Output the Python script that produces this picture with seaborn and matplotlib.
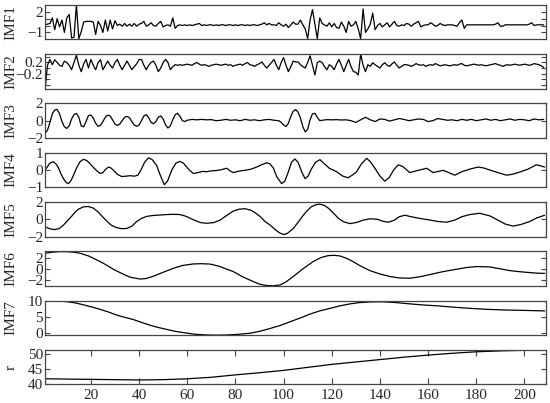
import numpy as np
import matplotlib
matplotlib.use("Agg")
import matplotlib.pyplot as plt
import seaborn as sns

# ---- data ----
imf1 = [0.1, 0.2, 0.3, 1.1, -0.6, 1.0, -0.2, 0.8, -1.0, 1.1,
        1.6, -1.8, -1.7, 3.0, -1.9, -0.9, 0.5, 0.6, 0.6, 0.6,
        0.5, -1.3, 0.6, 0.0, -1.0, 0.8, -0.8, 0.8, -0.5, 0.7,
        0.0, 0.2, -0.1, 0.3, -0.1, 0.2, -0.1, 0.3, -0.1, 0.2,
        0.3, 0.6, -0.1, 0.1, 0.4, 0.0, -0.1, 0.3, 0.6, -0.2,
        0.0, 0.1, -0.1, 1.1, -0.4, 0.0, 0.1, 0.0, 0.1, 0.0,
        0.1, 0.0, 0.1, 0.2, 0.3, 0.0, 0.1, 0.0, 0.1, 0.1,
        0.0, 0.1, 0.0, 0.1, 0.1, 0.0, 0.1, 0.1, 0.0, 0.1,
        0.0, 0.1, 0.1, 0.0, 0.1, 0.0, 0.1, 0.1, 0.0, 0.1,
        0.2, 0.4, 0.1, 0.3, 0.1, 0.1, 0.0, 0.4, 0.1, -0.1,
        0.2, -0.3, 0.1, 0.5, 0.2, 0.2, 0.8, 0.1, -0.5, -1.9,
        0.8, 2.3, 0.2, -1.9, 1.1, 0.3, 0.1, -0.1, 0.4, -0.2,
        0.3, -0.3, -0.4, 0.5, -0.1, -1.0, 0.6, -0.1, 0.1, 0.6,
        -0.5, -1.9, 2.4, -1.0, -0.5, 0.2, 1.8, -0.6, 0.0, 0.3,
        -0.2, 0.1, 0.4, -0.2, 0.2, 0.6, 0.0, -0.1, 0.1, 0.0,
        0.3, 0.2, -0.1, 0.2, 0.4, 0.6, -0.2, 0.0, 0.1, 0.1,
        0.4, 0.2, -0.1, 0.0, 0.3, 0.1, 0.0, 0.1, 0.1, 0.1,
        0.0, -0.1, 0.4, 0.8, -0.4, 0.1, 0.1, 0.1, 0.1, 0.1,
        0.1, 0.1, 0.1, 0.1, 0.1, 0.1, 0.1, 0.2, 0.4, -0.1,
        -0.1, 0.1, 0.1, 0.1, 0.1, 0.1, 0.1, 0.1, 0.1, 0.1,
        0.1, 0.2, 0.4, 0.0, 0.1, 0.1, 0.1, 0.1]

imf2 = [-0.74, 0.1, 0.31, 0.12, 0.3, 0.2, 0.1, 0.06, 0.25, 0.2,
        0.1, -0.06, 0.2, 0.46, 0.1, -0.13, 0.15, 0.31, 0.0, 0.31,
        0.1, -0.06, 0.2, 0.3, -0.06, 0.1, 0.25, 0.1, 0.0, 0.2,
        0.31, 0.1, -0.06, 0.1, 0.25, 0.1, -0.06, 0.05, 0.15, 0.3,
        0.31, 0.1, -0.06, 0.1, 0.2, 0.25, 0.1, -0.13, 0.0, 0.2,
        0.31, 0.2, -0.06, 0.05, 0.12, 0.1, 0.12, 0.1, 0.12, 0.14,
        0.12, 0.1, 0.16, 0.2, 0.14, 0.1, 0.12, 0.1, 0.06, 0.1,
        0.12, 0.14, 0.12, 0.1, 0.12, 0.14, 0.1, 0.12, 0.06, 0.1,
        0.12, 0.14, 0.1, 0.16, 0.2, 0.12, 0.1, 0.06, 0.12, 0.16,
        0.22, 0.1, 0.0, 0.1, 0.2, 0.31, 0.1, -0.06, 0.2, 0.38,
        0.1, -0.13, 0.05, 0.25, 0.22, 0.22, 0.12, 0.05, 0.0, 0.2,
        0.44, 0.1, -0.25, 0.19, 0.25, 0.2, 0.05, -0.06, 0.12, 0.06,
        -0.06, 0.15, 0.31, 0.1, -0.13, 0.1, 0.31, 0.05, -0.13, -0.15,
        -0.25, 0.5, 0.1, -0.13, 0.12, 0.06, 0.19, 0.12, 0.06, 0.0,
        0.12, 0.19, 0.1, 0.06, 0.15, 0.22, 0.1, 0.0, 0.06, 0.12,
        0.12, 0.1, 0.06, 0.1, 0.16, 0.12, 0.1, 0.12, 0.06, 0.1,
        0.12, 0.1, 0.16, 0.12, 0.08, 0.1, 0.12, 0.1, 0.08, 0.1,
        0.12, 0.1, 0.14, 0.16, 0.1, 0.08, 0.1, 0.12, 0.14, 0.12,
        0.1, 0.12, 0.1, 0.08, 0.1, 0.12, 0.14, 0.16, 0.12, 0.1,
        0.06, 0.1, 0.12, 0.1, 0.12, 0.14, 0.12, 0.1, 0.12, 0.14,
        0.12, 0.1, 0.12, 0.16, 0.14, 0.12, 0.08, 0.02]

imf3_x = [1, 2, 3, 4, 5, 6, 7, 8, 9, 10, 11, 12, 13, 14, 15, 16, 17, 18, 19, 20,
          21, 22, 23, 24, 25, 26, 27, 28, 29, 30, 31, 32, 33, 34, 35, 36, 37, 38, 39, 40,
          41, 42, 43, 44, 45, 46, 47, 48, 49, 50, 51, 52, 53, 54, 55, 56, 57, 58, 59, 60,
          61, 62, 64, 66, 68, 70, 72, 74, 76, 78, 80, 82, 84, 86, 88, 90, 92, 94, 96, 98,
          99, 100, 101, 102, 103, 104, 105, 106, 107, 108, 109, 110, 111, 112, 113, 114, 115, 116, 118, 120,
          122, 124, 126, 128, 130, 132, 134, 136, 138, 140, 142, 144, 146, 148, 150, 152, 154, 156, 158, 160,
          162, 164, 166, 168, 170, 172, 174, 176, 178, 180, 182, 184, 186, 188, 190, 192, 194, 196, 198, 200,
          202, 204, 206, 208]
imf3 = [-1.45, -1.1, -0.2, 0.8, 1.25, 1.3, 0.8, -0.1, -0.7, -0.9, -0.6, 0.2, 0.7, 0.85, 0.4, -0.6, -0.7, -0.1, 0.6, 0.65,
        0.3, -0.3, -0.65, -0.55, -0.1, 0.4, 0.65, 0.55, 0.1, -0.4, -0.55, -0.4, 0.0, 0.4, 0.5, 0.35, -0.1, -0.5, -0.65, -0.5,
        0.0, 0.55, 0.7, 0.35, -0.2, -0.35, -0.1, 0.4, 0.55, 0.2, -0.5, -0.85, -0.6, 0.1, 0.7, 0.85, 0.5, 0.0, -0.1, 0.05,
        0.1, 0.15, 0.1, 0.15, 0.1, 0.12, 0.0, 0.05, 0.15, 0.05, 0.1, 0.0, 0.15, 0.05, 0.1, 0.0, 0.1, 0.15, 0.05, 0.0,
        -0.2, -0.5, -0.67, -0.3, 0.5, 1.1, 1.3, 1.0, 0.3, -0.7, -1.3, -1.0, 0.1, 0.8, 0.85, 0.4, 0.0, 0.05, 0.12, 0.1,
        0.12, 0.08, 0.1, 0.0, -0.2, 0.1, 0.4, 0.1, -0.1, 0.2, 0.15, -0.05, 0.1, 0.25, 0.15, 0.0, 0.1, 0.2, 0.15, -0.1,
        0.0, 0.25, 0.15, 0.05, 0.1, 0.0, 0.15, 0.05, 0.15, 0.0, 0.1, 0.2, 0.05, 0.15, 0.0, 0.1, 0.2, 0.05, 0.15, 0.1,
        0.0, 0.2, 0.1, 0.15]

imf4_x = [1, 2, 3, 4.4, 5.5, 6.5, 7.5, 8.6, 9.7, 10.7, 11.8, 12.8, 14, 15.5, 16.9, 18.3, 19.7, 21, 22.5, 23.8,
          25, 26.2, 27.3, 28.3, 29.3, 31, 32.8, 34.5, 36.3, 38, 39.5, 40.8, 42.3, 43.9, 45.5, 47.3, 48.8, 50.5, 51.8, 53.6,
          55.3, 57, 58.4, 59.8, 61.2, 62.6, 64.5, 66.5, 68.1, 70, 72, 73.6, 75, 76.4, 77.8, 79.1, 80.5, 82, 84.7, 86.5,
          88.8, 90.8, 93, 94.4, 95.8, 97.2, 99.2, 100.5, 102, 103.3, 104.7, 106, 107.5, 108.9, 110.2, 111.5, 113.3, 115.1, 117, 119,
          122, 124.5, 126.8, 128.5, 130.3, 132.3, 134.5, 136.2, 137.9, 140, 142, 143.8, 145.7, 147.6, 149.5, 152.4, 155.9, 159.4, 162.1, 166.3,
          171.1, 174, 177.3, 180.7, 183, 185.6, 189, 192.5, 195, 198, 201.5, 204.9, 206.5, 208.4]
imf4 = [0.0, 0.2, 0.4, 0.48, 0.35, 0.15, -0.2, -0.5, -0.72, -0.79, -0.6, -0.3, 0.1, 0.48, 0.62, 0.55, 0.36, 0.15, -0.05, -0.2,
        -0.15, 0.05, 0.17, 0.12, 0.0, -0.25, -0.38, -0.36, -0.33, -0.36, -0.3, 0.0, 0.45, 0.7, 0.6, 0.26, -0.3, -0.85, -0.65, 0.0,
        0.4, 0.5, 0.4, 0.17, -0.05, -0.2, -0.15, -0.08, -0.1, -0.05, -0.03, 0.0, 0.05, 0.1, -0.05, -0.15, -0.1, -0.05, 0.0, 0.05,
        0.17, 0.3, 0.42, 0.35, 0.1, -0.4, -0.79, -0.65, -0.1, 0.45, 0.64, 0.45, -0.1, -0.5, -0.35, 0.05, 0.45, 0.6, 0.35, 0.1,
        -0.1, -0.35, -0.45, -0.3, -0.1, 0.35, 0.68, 0.45, 0.1, -0.35, -0.65, -0.45, 0.0, 0.3, 0.2, -0.15, -0.02, 0.1, -0.15, -0.02,
        -0.3, -0.1, 0.05, 0.17, 0.12, 0.0, -0.15, -0.3, -0.25, -0.12, 0.05, 0.3, 0.25, 0.17]

imf5_x = [1, 3, 5, 7, 8.5, 10, 12, 13.5, 15, 17, 19, 21, 23, 25, 26.8, 28.4, 30.5, 32.5, 34.8, 37,
          39, 41, 43.2, 46, 48.7, 51.5, 54, 57, 59.5, 62.6, 65.5, 68.1, 71, 73.6, 76.4, 79.1, 81.5, 84, 86.5, 88.5,
          90.2, 92.5, 94.4, 96.5, 98.5, 100, 101.5, 104, 106, 108, 109.6, 111.5, 113.5, 115.1, 117, 118.8, 120.6, 122.8, 125, 127.6,
          130.5, 133, 135.9, 139, 141.5, 143.5, 146, 148, 150.4, 153, 156.6, 160, 164, 167.6, 171, 174, 177.3, 181.4, 185.6, 189,
          192, 195.3, 198.5, 202.2, 205, 208.4]
imf5 = [-0.87, -1.1, -1.2, -1.05, -0.7, -0.26, 0.35, 0.85, 1.2, 1.45, 1.48, 1.3, 0.85, 0.25, -0.25, -0.67, -0.95, -1.08, -1.07, -0.8,
        -0.26, 0.1, 0.34, 0.45, 0.5, 0.55, 0.58, 0.55, 0.35, -0.06, -0.38, -0.46, -0.38, -0.1, 0.45, 0.95, 1.17, 1.23, 1.05, 0.7,
        0.34, -0.3, -0.67, -1.2, -1.6, -1.76, -1.65, -1.07, -0.35, 0.4, 0.95, 1.45, 1.7, 1.76, 1.6, 1.25, 0.75, 0.1, -0.3, -0.5,
        -0.35, -0.1, 0.06, 0.0, -0.25, -0.34, -0.1, 0.3, 0.47, 0.3, 0.1, -0.05, -0.25, -0.34, -0.1, 0.3, 0.55, 0.7, 0.4, -0.1,
        -0.55, -0.79, -0.6, -0.26, 0.15, 0.47]

imf6_x = [1, 4, 7, 10, 13, 15.5, 19, 22.4, 26, 29.3, 33, 36.3, 40.4, 43, 45.9, 50, 54.2, 58, 62.6, 66,
          69.5, 73, 79.1, 83, 87.4, 90, 93, 95.5, 98.5, 101, 104, 108, 112.3, 115.5, 118.5, 121, 123.3, 126, 128.8, 132,
          135.8, 140, 144.2, 148, 152.4, 156.5, 160.8, 166, 171.8, 176, 180.1, 185.6, 190, 193.9, 198, 202.2, 205, 208.4]
imf6 = [2.77, 2.95, 3.05, 3.05, 2.95, 2.77, 2.3, 1.6, 0.8, -0.06, -0.85, -1.47, -1.8, -1.7, -1.3, -0.6, 0.1, 0.6, 0.88, 0.92,
        0.85, 0.5, -0.47, -1.4, -2.24, -2.7, -2.94, -3.0, -2.85, -2.3, -1.35, 0.0, 1.3, 2.0, 2.35, 2.4, 2.3, 1.9, 1.3, 0.5,
        -0.3, -0.9, -1.35, -1.6, -1.65, -1.4, -1.0, -0.5, -0.06, 0.25, 0.41, 0.35, 0.0, -0.3, -0.5, -0.65, -0.75, -0.8]

imf7_x = [1, 5, 10, 13.5, 16.9, 20.5, 23.8, 27.5, 30.7, 34, 37.6, 41, 44.6, 48, 51.5, 55, 58.4, 63, 68.1, 72,
          76.4, 81, 86.1, 90, 93, 96, 98.5, 102.7, 107, 111, 115, 119.3, 123.5, 127.6, 131.5, 135.9, 139.5, 142.8, 147.5, 152.4,
          158, 163.5, 170, 177.3, 184, 191.2, 200, 208.4]
imf7 = [10.15, 10.1, 9.9, 9.5, 8.9, 8.2, 7.5, 6.6, 5.7, 5.0, 4.3, 3.4, 2.5, 1.8, 1.2, 0.6, 0.2, -0.3, -0.55, -0.6,
        -0.55, -0.35, 0.0, 0.6, 1.2, 1.85, 2.4, 3.6, 4.8, 6.0, 7.0, 7.8, 8.6, 9.2, 9.6, 9.8, 9.85, 9.8, 9.55, 9.2,
        8.85, 8.6, 8.2, 7.8, 7.5, 7.3, 7.15, 7.0]

res_x = [1, 10, 20, 30, 40, 50, 60, 70, 80, 90, 100, 110, 120, 130, 140, 150, 160, 170, 180, 190, 200, 208]
res = [41.9, 41.8, 41.7, 41.6, 41.5, 41.6, 41.9, 42.4, 43.2, 43.9, 44.7, 45.7, 46.7, 47.5, 48.3, 49.1, 49.8, 50.4,
       50.9, 51.2, 51.4, 51.4]

names = ["IMF1", "IMF2", "IMF3", "IMF4", "IMF5", "IMF6", "IMF7", "r"]
x_ticks = [20, 40, 60, 80, 100, 120, 140, 160, 180, 200]

# ---- style ----
sns.set_style("ticks")
plt.rcParams["font.family"] = ["Liberation Serif", "DejaVu Serif"]
plt.rcParams["axes.edgecolor"] = "#444444"
plt.rcParams["axes.linewidth"] = 0.9

idx = np.arange(1, len(imf1) + 1)
series = [(idx, imf1), (idx, imf2), (imf3_x, imf3), (imf4_x, imf4),
          (imf5_x, imf5), (imf6_x, imf6), (imf7_x, imf7), (res_x, res)]

ylims = [(-2, 3), (-0.74, 0.5), (-2, 2), (-1, 1), (-2, 2), (-3, 3.1), (-0.6, 10.2), (40, 51.5)]
yticks = [[-1, 0, 1, 2], [-0.6, -0.4, -0.2, 0, 0.2, 0.4], [-2, 0, 2], [-1, 0, 1],
          [-2, 0, 2], [-2, 0, 2], [0, 5, 10], [40, 45, 50]]
ylabels = [["\u22121", "", "", "2"], ["", "", "\u22120.2", "", "0.2", ""],
           ["\u22122", "0", "2"], ["\u22121", "0", "1"], ["\u22122", "0", "2"],
           ["\u22122", "0", "2"], ["0", "5", "10"], ["40", "45", "50"]]

fig, axes = plt.subplots(8, 1, figsize=(5.5, 4.03), dpi=100, sharex=True)
fig.subplots_adjust(left=0.082, right=0.993, top=0.988, bottom=0.046, hspace=0.43)

for i, ax in enumerate(axes):
    xs, ys = series[i]
    sns.lineplot(x=xs, y=ys, ax=ax, color="black", linewidth=0.9,
                 estimator=None, sort=False)
    ax.set_xlim(1, 209)
    ax.set_ylim(*ylims[i])
    ax.set_yticks(yticks[i])
    ax.set_yticklabels(ylabels[i])
    ax.tick_params(axis="y", direction="in", left=True, right=True, length=3.5,
                   width=0.8, labelsize=11, pad=1.5, color="#444444")
    ax.set_ylabel(names[i], fontsize=11)
    ax.yaxis.set_label_coords(-0.055, 0.5)
    if i < 7:
        ax.tick_params(axis="x", bottom=False, labelbottom=False)
    else:
        ax.set_xticks(x_ticks)
        ax.tick_params(axis="x", direction="in", top=True, bottom=True, length=4.5,
                       width=0.8, labelsize=11, pad=3, color="#444444")

fig.savefig("out.png", dpi=100)
